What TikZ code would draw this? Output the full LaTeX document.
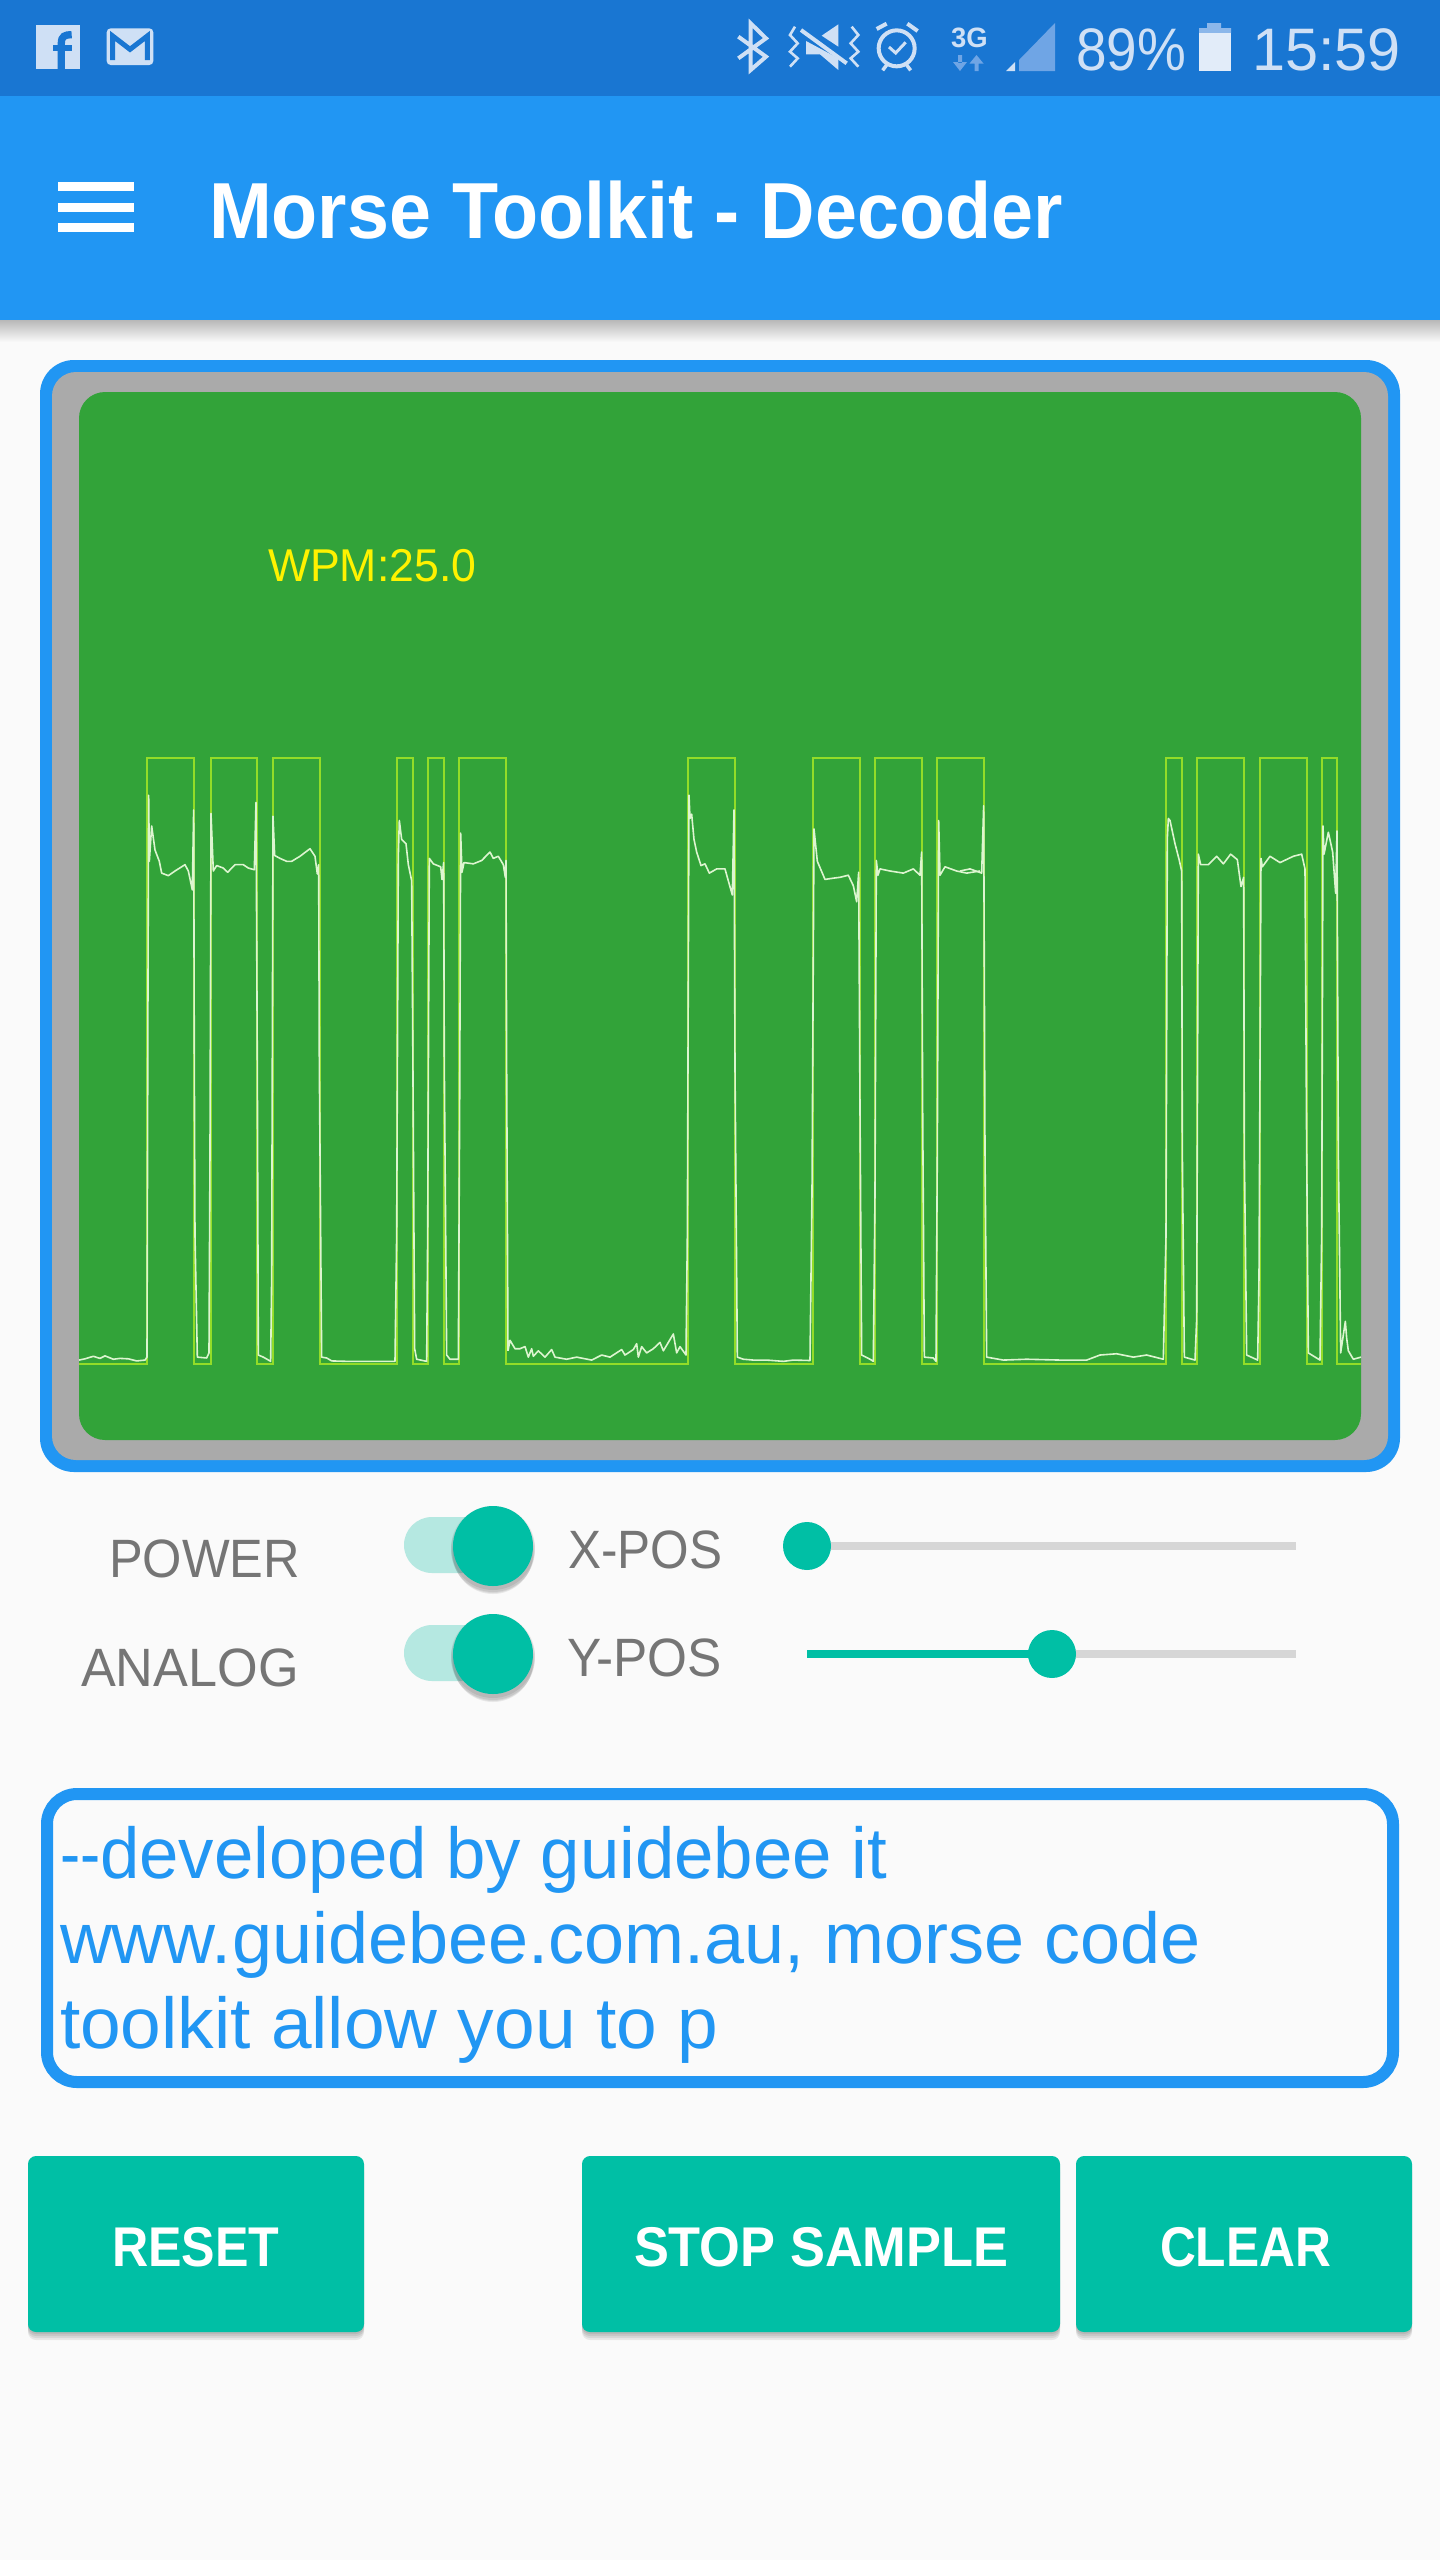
\documentclass[tikz,border=0pt]{standalone}
\usepackage{fontspec}
\usepackage{graphicx}
\setmainfont{Liberation Sans}
\usetikzlibrary{shadings}
\definecolor{statusbar}{HTML}{1976D2}
\definecolor{appbar}{HTML}{2196F3}
\definecolor{pagebg}{HTML}{FAFAFA}
\definecolor{iconlight}{HTML}{CFE0F5}
\definecolor{iconfaint}{HTML}{6FA5E5}
\definecolor{panelgray}{HTML}{AAAAAA}
\definecolor{scope}{HTML}{32A339}
\definecolor{wave}{HTML}{93DC28}
\definecolor{sig}{HTML}{DDF5D0}
\definecolor{teal}{HTML}{00BFA5}
\definecolor{tealsoft}{HTML}{B5E8E1}
\definecolor{track}{HTML}{D6D6D6}
\definecolor{labelgray}{HTML}{757575}
\newcommand{\fsz}[1]{\fontsize{#1}{#1}\selectfont}
\newcommand{\sxt}[2]{\scalebox{#1}[1]{#2}}
\tikzset{
  txt/.style={inner sep=0pt,outer sep=0pt,anchor=base west},
  icon/.style={draw=iconlight,line cap=butt,line join=miter},
  iconfill/.style={fill=iconlight,draw=none},
  signal/.style={draw=sig,line width=1.6pt,line join=round},
  squarewave/.style={draw=wave,line width=2.2pt,line join=miter},
  btn/.style={fill=teal,rounded corners=8pt,draw=none},
  btnshade/.style={fill=black,opacity=.07,rounded corners=8pt,draw=none},
  zoomtwo/.style={shift={(60,730)},x=0.33333pt,y=-0.42088pt},
  zoomthree/.style={shift={(500,730)},x=0.33333pt,y=-0.42088pt},
  zoomfour/.style={shift={(960,730)},x=0.33333pt,y=-0.42088pt},
  thirds/.style={x=0.33333pt,y=-0.33333pt}
}
\begin{document}
\begin{tikzpicture}[x=1pt,y=-1pt]
\useasboundingbox (0,0) rectangle (1440,2560);
\fill[pagebg] (0,0) rectangle (1440,2560);
% app bar
\shade[top color=black!28,bottom color=pagebg] (0,320) rectangle (1440,342);
\fill[statusbar] (0,0) rectangle (1440,96);
\fill[appbar] (0,96) rectangle (1440,320);
\foreach \yy in {182,203,223} \fill[white] (58,\yy) rectangle (134,\yy+9);
\node[txt,text=white] (title) at (209,238) {\fsz{79.5}\bfseries\sxt{0.949}{Morse Toolkit - Decoder}};
% facebook + mail
\begin{scope}[shift={(20,10)},thirds]
\fill[iconlight] (47,45) rectangle (180,178);
\draw[statusbar,line width=7.3pt] (124,178) -- (124,100) .. controls (124,78) and (135,74) .. (155,74);
\draw[statusbar,line width=6pt] (100,115) -- (155,115);
\fill[iconlight,rounded corners=4pt] (260,55) rectangle (400,165);
\draw[statusbar,line width=5pt,line join=miter] (278,150) -- (278,78) -- (330,118) -- (382,78) -- (382,150);
\end{scope}
% bluetooth, mute, alarm
\begin{scope}[shift={(730,15)},thirds]
\draw[icon,line width=4pt] (25,65) -- (108,125) -- (62,165) -- (62,25) -- (108,70) -- (25,130);
\draw[icon,line width=2.6pt] (195,35) -- (180,60) -- (203,85) -- (180,110) -- (203,130) -- (180,155);
\draw[icon,line width=2.6pt] (365,35) -- (385,60) -- (362,85) -- (385,110) -- (362,130) -- (385,155);
\fill[iconlight] (325,28) -- (325,95) -- (275,62) -- cycle;
\fill[iconlight] (228,78) -- (228,118) -- (270,118) -- (325,165) -- (325,130) -- cycle;
\draw[icon,line width=4pt] (213,45) -- (350,145);
\draw[icon,line width=4pt] (500,100) circle[radius=54];
\draw[icon,line width=4pt] (440,42) -- (470,26);
\draw[icon,line width=4pt] (532,26) -- (563,48);
\draw[icon,line width=3.5pt] (470,150) -- (458,166);
\draw[icon,line width=3.5pt] (530,150) -- (542,166);
\draw[icon,line width=3pt] (477,96) -- (497,114) -- (527,82);
\end{scope}
% 3G + arrows
\node[txt,text=iconlight] (threeg) at (951,47) {\fsz{28}\bfseries\sxt{0.98}{3G}};
\fill[iconfaint] (958,55) rectangle (962,63) (953,62) -- (967,62) -- (960,71) -- cycle;
\fill[iconfaint] (974.5,63) rectangle (978.5,71) (969.5,63.5) -- (983.5,63.5) -- (976.5,55) -- cycle;
% signal
\fill[iconfaint] (1019,71) -- (1019,60) -- (1055,23) -- (1055,71) -- cycle;
\fill[iconlight] (1006,71) -- (1015,71) -- (1015,62) -- cycle;
\node[txt,text=iconlight] (pct) at (1076,70) {\fsz{60}\sxt{0.915}{89\%}};
% battery
\fill[iconfaint!70!iconlight] (1207,23) rectangle (1221,28) (1199,28) rectangle (1231,33);
\fill[iconlight!60!white] (1199,33) rectangle (1231,71);
\node[txt,text=iconlight] (clock) at (1252,70) {\fsz{60}\sxt{0.99}{15:59}};
% scope panel
\fill[appbar,rounded corners=34pt] (40,360) rectangle (1400,1472);
\fill[panelgray,rounded corners=24pt] (52,372) rectangle (1388,1460);
\fill[scope,rounded corners=26pt] (79,392) rectangle (1361,1440);
\node[txt,text=yellow] (wpm) at (268,581) {\fsz{46}\sxt{0.97}{WPM:25.0}};
% square wave
\draw[squarewave] (79,1364) -- (147.3,1364) -- (147.3,758) -- (194.3,758) -- (194.3,1364) -- (210.7,1364) -- (210.7,758) -- (257.3,758) -- (257.3,1364) -- (272.7,1364) -- (272.7,758) -- (319.7,758) -- (319.7,1364) -- (397.3,1364) -- (397.3,758) -- (413,758) -- (413,1364) -- (428.3,1364) -- (428.3,758) -- (444,758) -- (444,1364) -- (459.3,1364) -- (459.3,758) -- (506.3,758) -- (506.3,1364) -- (688.3,1364) -- (688.3,758) -- (735.3,758) -- (735.3,1364) -- (812.7,1364) -- (812.7,758) -- (859.7,758) -- (859.7,1364) -- (875.3,1364) -- (875.3,758) -- (922,758) -- (922,1364) -- (937.3,1364) -- (937.3,758) -- (984,758) -- (984,1364) -- (1166.3,1364) -- (1166.3,758) -- (1182.3,758) -- (1182.3,1364) -- (1197.3,1364) -- (1197.3,758) -- (1244.3,758) -- (1244.3,1364) -- (1259.7,1364) -- (1259.7,758) -- (1306.7,758) -- (1306.7,1364) -- (1321.7,1364) -- (1321.7,758) -- (1337.3,758) -- (1337.3,1364) -- (1361,1364);
% measured signal
\begin{scope}[zoomtwo]
\draw[signal] (57,1497) -- (75,1494) -- (100,1488) -- (120,1493) -- (135,1487) -- (160,1495) -- (180,1493) -- (205,1494) -- (230,1499) -- (255,1497) -- (261,1490) -- (264,600) -- (266,155) -- (268,312) -- (275,228) -- (285,285) -- (298,312) -- (305,340) -- (325,346) -- (345,335) -- (375,320) -- (385,335) -- (397,380) -- (401,190) -- (403,800) -- (405,1200) -- (412,1490) -- (440,1492) -- (447,1480) -- (450,1000) -- (453,198) -- (460,335) -- (470,322) -- (490,328) -- (503,338) -- (525,320) -- (550,320) -- (565,328) -- (583,332) -- (588,172) -- (592,800) -- (595,1485) -- (610,1490) -- (632,1500) -- (635,1300) -- (639,205) -- (644,298) -- (660,305) -- (680,312) -- (695,312) -- (720,300) -- (750,282) -- (765,300) -- (772,342) -- (776,320) -- (778,800) -- (785,1490) -- (800,1492) -- (815,1499) -- (860,1500) -- (900,1500) -- (1005,1500) -- (1010,1200) -- (1015,300) -- (1018,215) -- (1025,260) -- (1038,270) -- (1045,320) -- (1055,358) -- (1058,700) -- (1064,1470) -- (1070,1495) -- (1100,1500) -- (1103,1200) -- (1108,305) -- (1120,318) -- (1142,325) -- (1146,355) -- (1151,315) -- (1153,800) -- (1160,1485) -- (1170,1495) -- (1195,1495) -- (1199,900) -- (1202,245) -- (1206,338) -- (1212,315) -- (1240,318) -- (1265,310) -- (1290,290) -- (1300,305) -- (1315,300) -- (1330,320) -- (1336,350) -- (1338,310) -- (1340,800) -- (1344,1475);
\end{scope}
\begin{scope}[zoomthree]
\draw[signal] (24,1475) -- (30,1450) -- (45,1470) -- (60,1470) -- (75,1465) -- (85,1490) -- (95,1470) -- (100,1488) -- (115,1475) -- (135,1490) -- (155,1472) -- (165,1490) -- (200,1495) -- (230,1490) -- (275,1497) -- (305,1485) -- (330,1490) -- (365,1472) -- (375,1485) -- (400,1472) -- (410,1458) -- (415,1490) -- (425,1465) -- (440,1480) -- (460,1470) -- (480,1455) -- (490,1475) -- (505,1455) -- (520,1435) -- (530,1480) -- (540,1465) -- (558,1485) -- (562,1200) -- (567,155) -- (570,210) -- (575,200) -- (582,260) -- (590,290) -- (603,322) -- (615,318) -- (628,340) -- (650,330) -- (675,330) -- (682,350) -- (697,392) -- (702,190) -- (705,800) -- (712,1490) -- (730,1495) -- (760,1497) -- (800,1497) -- (850,1500) -- (880,1497) -- (930,1498) -- (936,1100) -- (942,235) -- (952,312) -- (975,355) -- (1000,352) -- (1020,350) -- (1045,345) -- (1060,370) -- (1070,408) -- (1076,338) -- (1080,900) -- (1085,1485) -- (1110,1495) -- (1120,1500) -- (1125,1100) -- (1129,310) -- (1134,345) -- (1140,330) -- (1170,335) -- (1210,340) -- (1240,330) -- (1260,345) -- (1265,290) -- (1268,900) -- (1273,1490) -- (1300,1492) -- (1308,1500) -- (1312,1000) -- (1316,215) -- (1320,345) -- (1335,325) -- (1370,335) -- (1400,340) -- (1440,335);
\end{scope}
\begin{scope}[zoomfour]
\draw[signal] (0,335) -- (30,330) -- (65,340) -- (71,180) -- (75,1000) -- (80,1490) -- (130,1497) -- (200,1495) -- (300,1497) -- (380,1497) -- (420,1485) -- (470,1482) -- (520,1490) -- (560,1485) -- (610,1495) -- (618,1200) -- (622,258) -- (625,210) -- (630,215) -- (645,270) -- (658,310) -- (665,335) -- (667,1000) -- (673,1490) -- (705,1497) -- (710,1400) -- (715,295) -- (722,320) -- (745,320) -- (770,300) -- (790,318) -- (812,295) -- (832,308) -- (843,372) -- (851,350) -- (853,1000) -- (860,1485) -- (893,1497) -- (897,1300) -- (903,305) -- (907,325) -- (930,300) -- (960,315) -- (1000,300) -- (1025,295) -- (1035,330) -- (1040,1000) -- (1045,1480) -- (1080,1497) -- (1085,1200) -- (1089,228) -- (1092,295) -- (1105,243) -- (1118,290) -- (1127,388) -- (1131,240) -- (1135,1000) -- (1142,1480) -- (1156,1405) -- (1160,1445) -- (1165,1475) -- (1180,1495) -- (1203,1490);
\end{scope}
% controls
\node[txt,text=labelgray] (power) at (109,1577) {\fsz{54}\sxt{0.936}{POWER}};
\node[txt,text=labelgray] (analog) at (81,1686) {\fsz{54}\sxt{0.967}{ANALOG}};
\node[txt,text=labelgray] (xpos) at (568,1568) {\fsz{54}\sxt{0.917}{X-POS}};
\node[txt,text=labelgray] (ypos) at (567,1676) {\fsz{54}\sxt{0.95}{Y-POS}};
\foreach \cy in {1546,1654} {
  \fill[tealsoft,rounded corners=28pt] (404,\cy-29) rectangle (520,\cy+27);
  \foreach \dd/\rr in {2/42,4/42,6/41,8/40} \fill[black,opacity=.07] (493,\cy+\dd) circle[radius=\rr];
  \fill[teal] (493,\cy) circle[radius=40];
}
\fill[track] (807,1542) rectangle (1296,1550);
\fill[teal] (807,1546) circle[radius=24];
\fill[track] (1052,1650) rectangle (1296,1658);
\fill[teal] (807,1650) rectangle (1052,1658);
\fill[teal] (1052,1654) circle[radius=24];
% text box
\draw[appbar,line width=12pt,rounded corners=30pt] (47,1794) rectangle (1393,2082);
\node[txt,text=appbar] (line1) at (60,1878) {\fsz{72}\sxt{0.84}{-{}-}\sxt{0.983}{developed by guidebee it}};
\node[txt,text=appbar] (line2) at (60,1963) {\fsz{72}\sxt{1.0}{www.guidebee.com.au, morse code}};
\node[txt,text=appbar] (line3) at (60,2048) {\fsz{72}\sxt{1.015}{toolkit allow you to p}};
% buttons
\foreach \xa/\xb in {28/364,582/1060,1076/1412} {
  \foreach \dd in {2,4,6,8} \fill[btnshade] (\xa,2156+\dd) rectangle (\xb,2332+\dd);
  \fill[btn] (\xa,2156) rectangle (\xb,2332);
}
\node[txt,text=white] (reset) at (112,2266) {\fsz{56}\bfseries\sxt{0.896}{RESET}};
\node[txt,text=white] (stop) at (634,2266) {\fsz{56}\bfseries\sxt{0.935}{STOP SAMPLE}};
\node[txt,text=white] (clear) at (1160,2266) {\fsz{56}\bfseries\sxt{0.887}{CLEAR}};
\end{tikzpicture}
\end{document}
